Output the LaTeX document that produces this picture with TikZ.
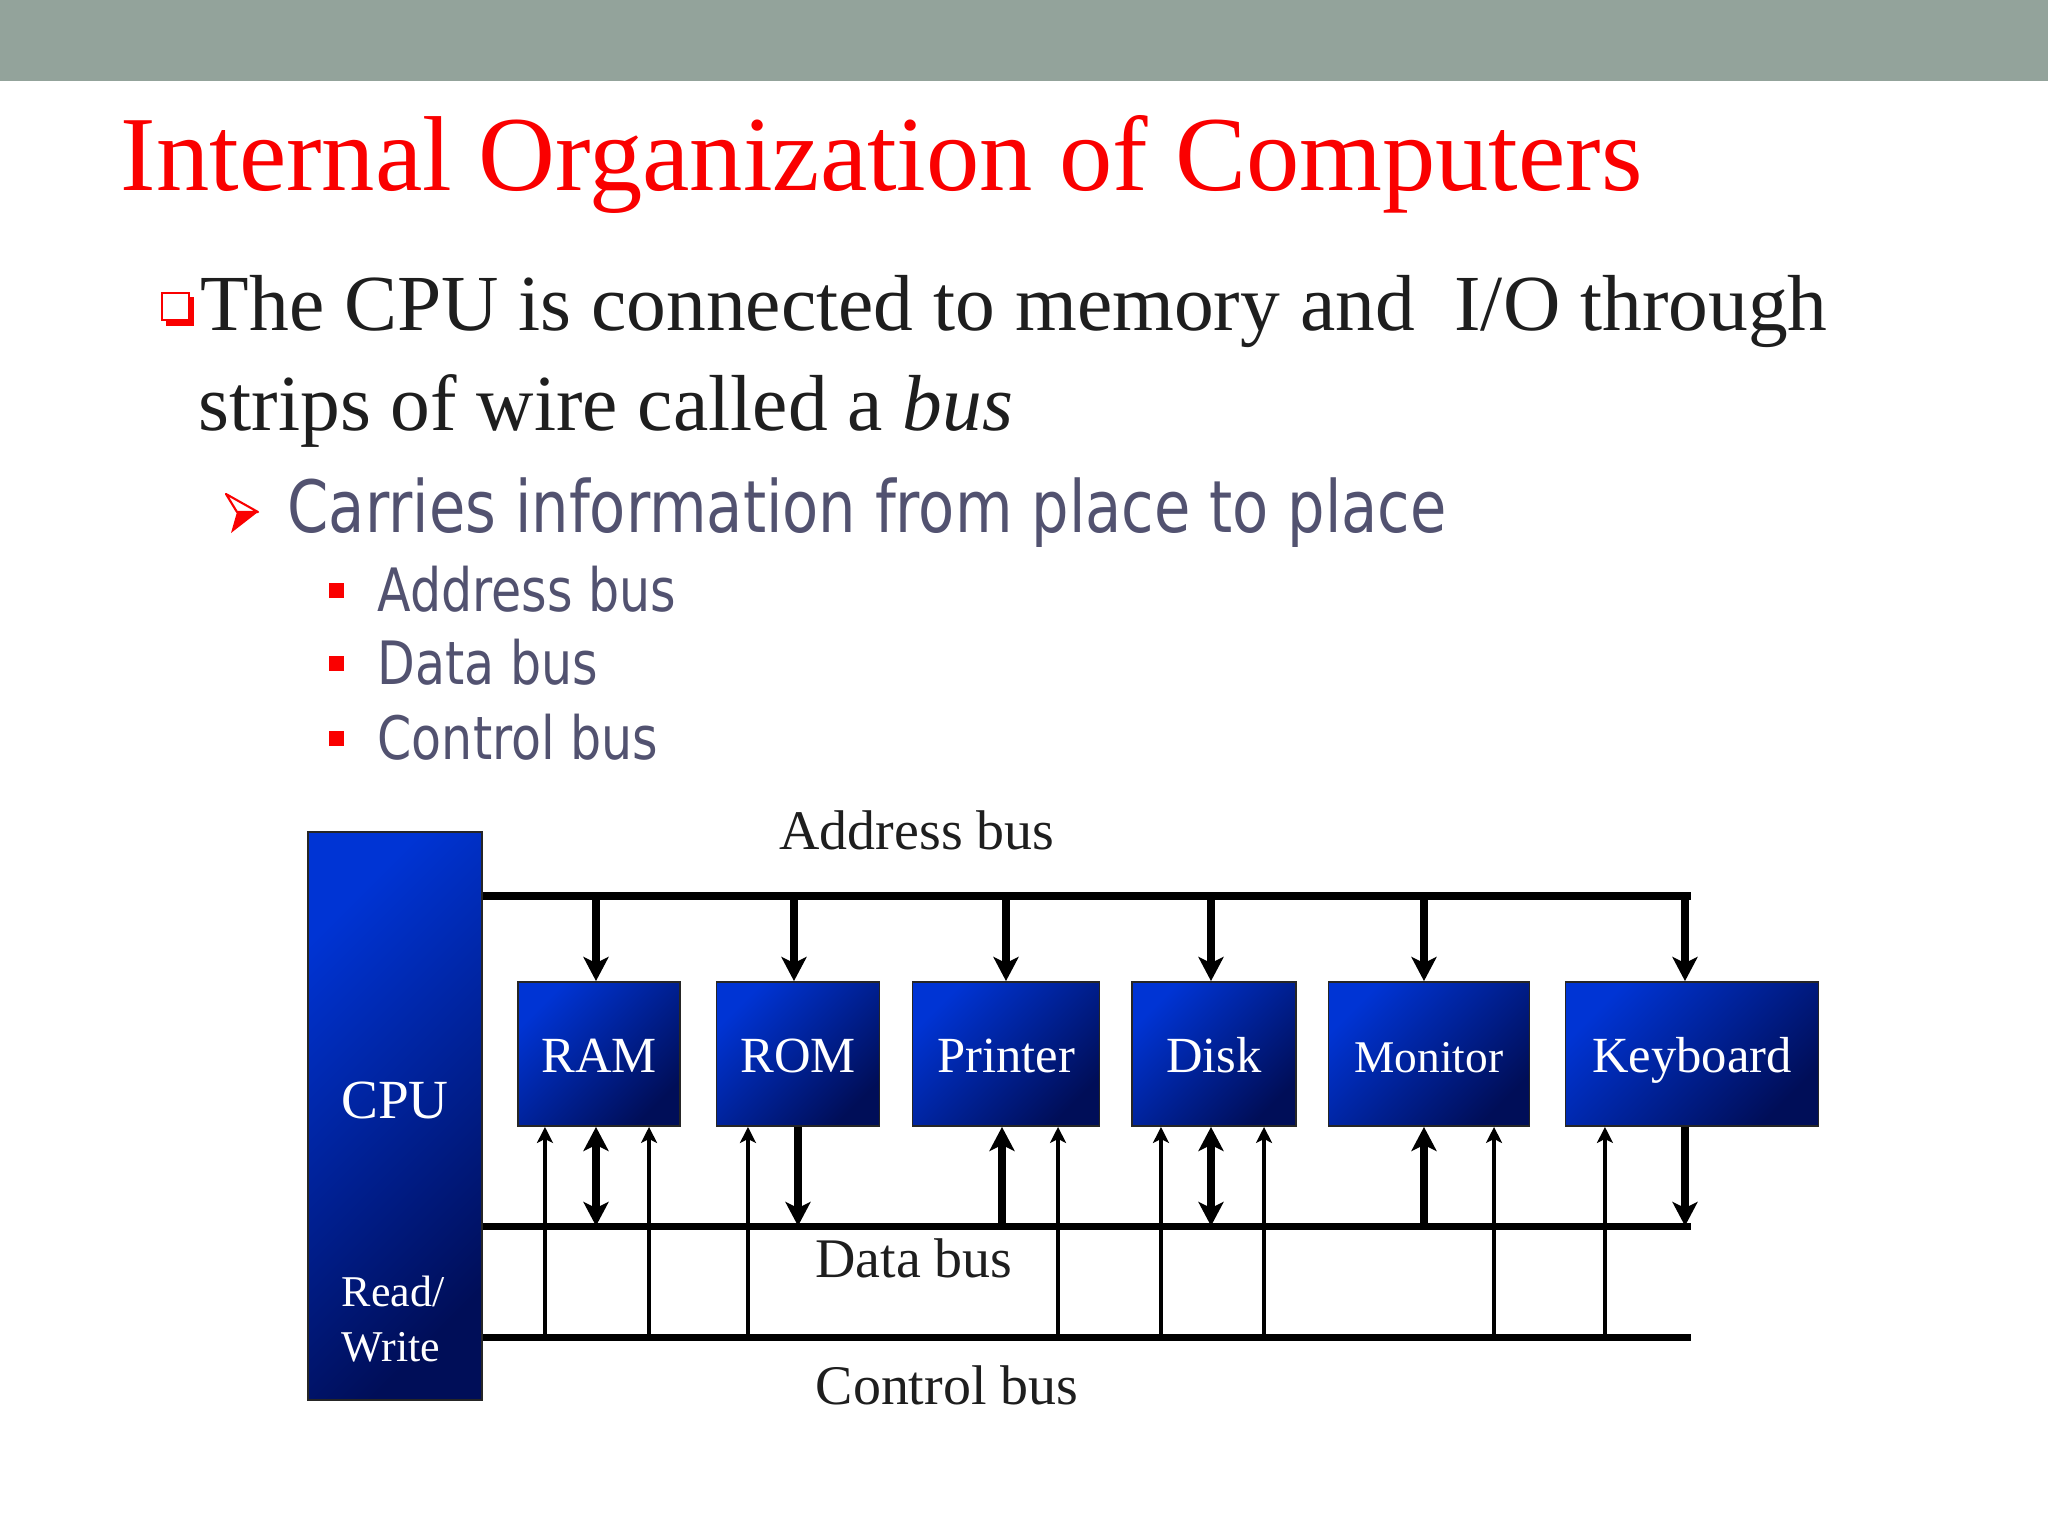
\documentclass[tikz,border=0pt]{standalone}
\usepackage{fontspec}
\setmainfont{Liberation Serif}
\newfontfamily\slidesans[FakeStretch=0.82]{DejaVu Sans}
\usetikzlibrary{arrows.meta,positioning}

\definecolor{bandgray}{RGB}{147,163,155}
\definecolor{titlered}{RGB}{250,0,0}
\definecolor{slate}{RGB}{82,82,112}
\definecolor{ink}{RGB}{30,30,30}
\definecolor{boxlight}{RGB}{0,52,212}
\definecolor{boxdark}{RGB}{0,14,88}

\tikzset{
  unitbox/.style={draw=black!85, line width=0.5pt, shading=axis, top color=boxlight,
    bottom color=boxdark, shading angle=45, text=white, inner sep=0pt,
    minimum height=1.44cm, text height=0.37cm, text depth=0pt,
    font=\fontsize{14.4}{16}\selectfont},
  busline/.style={line width=2pt},
  fatarrow/.style={line width=2pt, -{Stealth[length=0.24cm,width=0.25cm,inset=0.06cm]}},
  fatboth/.style={line width=2pt, {Stealth[length=0.24cm,width=0.25cm,inset=0.06cm]}-{Stealth[length=0.24cm,width=0.25cm,inset=0.06cm]}},
  ctlarrow/.style={line width=1pt, -{Stealth[length=0.16cm,width=0.16cm,inset=0.04cm]}},
  buslabel/.style={anchor=base, text=ink, inner sep=0pt, font=\fontsize{15.9}{18}\selectfont},
  slidetext/.style={anchor=base west, inner sep=0pt},
}

\begin{document}
\begin{tikzpicture}[x=0.01cm,y=-0.01cm]
  \fill[white] (0,0) rectangle (2048,1536);
  \useasboundingbox (0,0) rectangle (2048,1536);
  \fill[bandgray] (0,0) rectangle (2048,81);

  % title and bullet text
  \node[slidetext, text=titlered, font=\fontsize{30.3}{36}\selectfont] (title) at (120,190) {Internal Organization of Computers};
  \fill[titlered] (166,297) -- (194,297) -- (194,326) -- (166,326) -- cycle;
  \filldraw[fill=white, draw=titlered, line width=0.75pt] (162,293) rectangle (189,320);
  \node[slidetext, text=ink, font=\fontsize{22.6}{27}\selectfont] (point) at (200,330) {The CPU is connected to memory and\ \ I/O through};
  \node[slidetext, text=ink, font=\fontsize{22.6}{27}\selectfont] (strips) at (198,430) {strips of wire called a \textit{bus}};

  \filldraw[fill=white, draw=titlered, line width=0.6pt, line join=round] (226,494) -- (258,512) -- (237,512) -- cycle;
  \fill[titlered] (237,512) -- (258,512) -- (231,533) -- cycle;
  \node[slidetext, text=slate, font=\slidesans\fontsize{20.5}{24}\selectfont] (carries) at (287,532) {Carries information from place to place};

  \fill[titlered] (329,583) rectangle (344,598);
  \fill[titlered] (329,656) rectangle (344,671);
  \fill[titlered] (329,731) rectangle (344,746);
  \node[slidetext, text=slate, font=\slidesans\fontsize{17}{20}\selectfont] (addr) at (377,611) {Address bus};
  \node[slidetext, text=slate, font=\slidesans\fontsize{17}{20}\selectfont] (data) at (377,684) {Data bus};
  \node[slidetext, text=slate, font=\slidesans\fontsize{17}{20}\selectfont] (ctrl) at (377,759) {Control bus};

  % the bus diagram
  \node[unitbox, minimum width=1.74cm, minimum height=5.68cm] (cpu) at (395,1116) {};
  \node[text=white, inner sep=0pt, font=\fontsize{15.7}{18}\selectfont] (cputxt) at (395,1100) {CPU};
  \node[anchor=base west, align=left, text=white, inner sep=0pt, font=\fontsize{12.5}{15.6}\selectfont] (rw) at (341,1361) {Read/\\Write};

  \node[unitbox, minimum width=1.62cm] (ram) at (599,1054) {RAM};
  \node[unitbox, minimum width=1.63cm] (rom) at (798,1054) {ROM};
  \node[unitbox, minimum width=1.87cm] (printer) at (1006,1054) {Printer};
  \node[unitbox, minimum width=1.64cm] (disk) at (1214,1054) {Disk};
  \node[unitbox, minimum width=2.01cm, font=\fontsize{12.9}{15}\selectfont] (monitor) at (1429,1054) {Monitor};
  \node[unitbox, minimum width=2.53cm] (keyboard) at (1692,1054) {Keyboard};

  \coordinate (abus) at (1691,896);
  \coordinate (dbus) at (1691,1226);
  \coordinate (cbus) at (1691,1337);
  \draw[busline] (cpu.east |- abus) -- (abus);
  \draw[busline] (cpu.east |- dbus) -- (dbus);
  \draw[busline] (cpu.east |- cbus) -- (cbus);

  \node[buslabel] (abuslbl) at (917,849) {Address bus};
  \node[buslabel] (dbuslbl) at (914,1277) {Data bus};
  \node[buslabel] (cbuslbl) at (947,1404) {Control bus};

  % address bus
  \draw[fatarrow] ([xshift=-0.03cm]ram.north |- abus) -- ([xshift=-0.03cm]ram.north);
  \draw[fatarrow] ([xshift=-0.04cm]rom.north |- abus) -- ([xshift=-0.04cm]rom.north);
  \draw[fatarrow] (printer.north |- abus) -- (printer.north);
  \draw[fatarrow] ([xshift=-0.03cm]disk.north |- abus) -- ([xshift=-0.03cm]disk.north);
  \draw[fatarrow] ([xshift=-0.05cm]monitor.north |- abus) -- ([xshift=-0.05cm]monitor.north);
  \draw[fatarrow] ([xshift=-0.07cm]keyboard.north |- abus) -- ([xshift=-0.07cm]keyboard.north);

  % data bus
  \draw[fatboth] ([xshift=-0.03cm]ram.south) -- ([xshift=-0.03cm]ram.south |- dbus);
  \draw[fatarrow] (rom.south) -- (rom.south |- dbus);
  \draw[fatarrow] ([xshift=-0.04cm]printer.south |- dbus) -- ([xshift=-0.04cm]printer.south);
  \draw[fatboth] ([xshift=-0.03cm]disk.south) -- ([xshift=-0.03cm]disk.south |- dbus);
  \draw[fatarrow] ([xshift=-0.05cm]monitor.south |- dbus) -- ([xshift=-0.05cm]monitor.south);
  \draw[fatarrow] ([xshift=-0.07cm]keyboard.south) -- ([xshift=-0.07cm]keyboard.south |- dbus);

  % control bus
  \draw[ctlarrow] ([xshift=-0.54cm]ram.south |- cbus) -- ([xshift=-0.54cm]ram.south);
  \draw[ctlarrow] ([xshift=0.50cm]ram.south |- cbus) -- ([xshift=0.50cm]ram.south);
  \draw[ctlarrow] ([xshift=-0.50cm]rom.south |- cbus) -- ([xshift=-0.50cm]rom.south);
  \draw[ctlarrow] ([xshift=0.52cm]printer.south |- cbus) -- ([xshift=0.52cm]printer.south);
  \draw[ctlarrow] ([xshift=-0.53cm]disk.south |- cbus) -- ([xshift=-0.53cm]disk.south);
  \draw[ctlarrow] ([xshift=0.50cm]disk.south |- cbus) -- ([xshift=0.50cm]disk.south);
  \draw[ctlarrow] ([xshift=0.65cm]monitor.south |- cbus) -- ([xshift=0.65cm]monitor.south);
  \draw[ctlarrow] ([xshift=-0.87cm]keyboard.south |- cbus) -- ([xshift=-0.87cm]keyboard.south);
\end{tikzpicture}
\end{document}
